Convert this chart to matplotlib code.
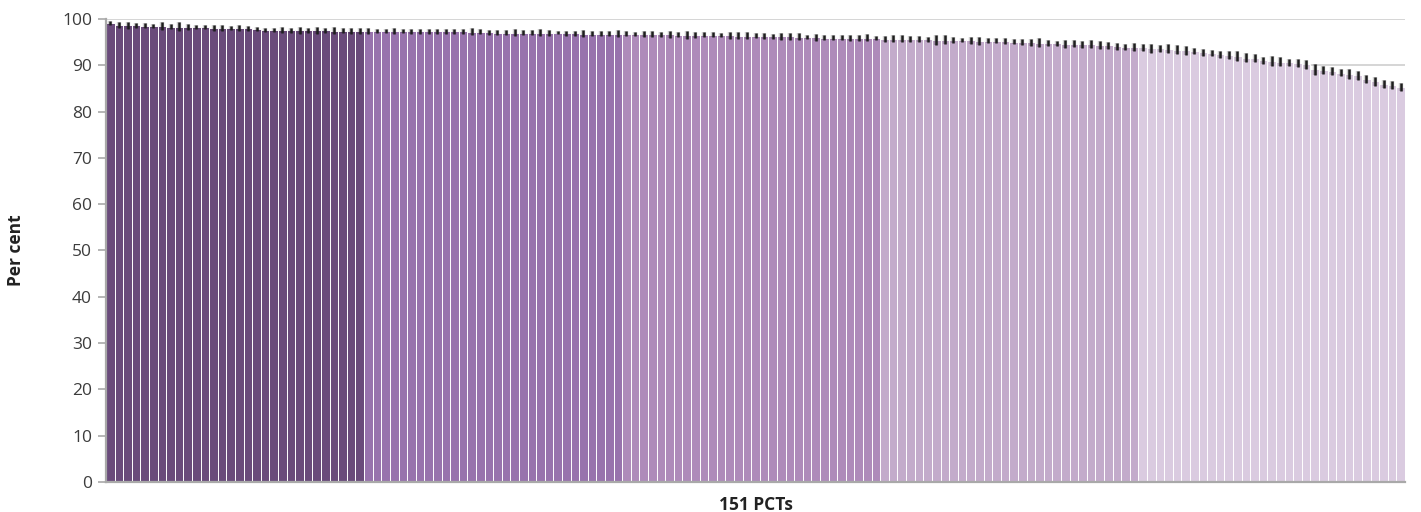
import matplotlib
matplotlib.use("Agg")
import matplotlib.pyplot as plt
import matplotlib.patheffects as pe
import numpy as np

plt.rcParams['font.family'] = ['Open Sans', 'DejaVu Sans']

# ---- data ----
values = [
    # bars 1-30 (group 1)
    99.2, 98.7, 98.6, 98.6, 98.5, 98.5, 98.5, 98.35, 98.3, 98.3,
    98.3, 98.25, 98.05, 98.05, 98.05, 98.05, 98.0, 97.85, 97.6, 97.6,
    97.6, 97.55, 97.55, 97.55, 97.55, 97.55, 97.5, 97.45, 97.4, 97.4,
    # bars 31-60 (group 2)
    97.4, 97.4, 97.4, 97.4, 97.35, 97.3, 97.3, 97.3, 97.3, 97.3,
    97.3, 97.3, 97.25, 97.2, 97.1, 97.05, 97.05, 97.05, 97.05, 97.05,
    97.0, 97.0, 97.0, 96.95, 96.9, 96.85, 96.85, 96.85, 96.85, 96.85,
    # bars 61-90 (group 3)
    96.8, 96.8, 96.75, 96.7, 96.65, 96.65, 96.6, 96.6, 96.55, 96.55,
    96.55, 96.5, 96.45, 96.4, 96.4, 96.35, 96.3, 96.25, 96.25, 96.25,
    96.2, 96.1, 96.05, 95.95, 95.95, 95.95, 95.9, 95.9, 95.9, 95.9,
    # bars 91-120 (group 4)
    95.7, 95.7, 95.7, 95.7, 95.7, 95.6, 95.5, 95.5, 95.5, 95.45,
    95.35, 95.3, 95.3, 95.3, 95.2, 95.1, 95.0, 95.0, 94.9, 94.8,
    94.7, 94.6, 94.6, 94.5, 94.5, 94.4, 94.3, 94.1, 93.95, 93.9,
    # bars 121-151 (group 5)
    93.85, 93.7, 93.7, 93.6, 93.4, 93.2, 93.1, 92.8, 92.6, 92.4,
    92.2, 92.0, 91.6, 91.5, 91.1, 90.9, 90.8, 90.6, 90.5, 90.2,
    89.1, 89.0, 88.8, 88.4, 88.1, 87.8, 87.0, 86.5, 86.0, 85.7,
    85.3,
]

errors = [
    0.45, 0.65, 0.7, 0.6, 0.55, 0.45, 0.8, 0.55, 0.95, 0.7,
    0.5, 0.4, 0.7, 0.55, 0.4, 0.6, 0.5, 0.5, 0.4, 0.4,
    0.6, 0.5, 0.7, 0.6, 0.7, 0.6, 0.75, 0.55, 0.6, 0.6,
    0.55, 0.5, 0.5, 0.55, 0.4, 0.5, 0.6, 0.6, 0.5, 0.5,
    0.55, 0.6, 0.7, 0.55, 0.6, 0.6, 0.6, 0.7, 0.6, 0.55,
    0.75, 0.7, 0.3, 0.55, 0.5, 0.85, 0.6, 0.6, 0.5, 0.75,
    0.55, 0.4, 0.6, 0.6, 0.6, 0.7, 0.5, 0.85, 0.7, 0.55,
    0.55, 0.4, 0.75, 0.75, 0.7, 0.55, 0.6, 0.55, 0.7, 0.75,
    0.85, 0.4, 0.75, 0.55, 0.55, 0.6, 0.6, 0.7, 0.75, 0.4,
    0.7, 0.75, 0.75, 0.7, 0.7, 0.55, 1.1, 0.95, 0.6, 0.5,
    0.85, 0.85, 0.6, 0.6, 0.7, 0.55, 0.7, 0.75, 1.0, 0.7,
    0.6, 0.85, 0.75, 0.7, 0.85, 0.85, 0.75, 0.7, 0.7, 0.85,
    0.7, 0.95, 0.75, 0.9, 0.9, 0.95, 0.6, 0.75, 0.6, 0.75,
    0.95, 1.0, 0.95, 0.9, 0.75, 1.0, 0.95, 0.85, 0.95, 1.0,
    1.1, 0.85, 0.9, 0.75, 1.15, 1.0, 0.85, 1.0, 0.9, 0.85,
    0.95,
]

group_sizes = [30, 30, 30, 30, 31]
group_colors = ['#6a4b7b', '#9873ad', '#ae8bba', '#c3abcb', '#dacbe0']

y_ticks = [0, 10, 20, 30, 40, 50, 60, 70, 80, 90, 100]
x_label = '151 PCTs'
y_label = 'Per cent'

# ---- plot ----
n = len(values)
x = np.arange(n)
colors = []
for c, s in zip(group_colors, group_sizes):
    colors += [c] * s

fig = plt.figure(figsize=(14.21, 5.12), dpi=100)
ax = fig.add_axes([0.0746, 0.0586, 0.9142, 0.9044])

ax.bar(x, values, width=1.0, color=colors, edgecolor='white',
       linewidth=0.7, zorder=2)
eb = ax.errorbar(x, values, yerr=errors, fmt='none', ecolor='#1e1e1e',
                 elinewidth=1.8, capsize=0, zorder=3)
for lc in eb[2]:
    lc.set_path_effects([pe.Stroke(linewidth=3.2, foreground='#00000030'),
                         pe.Normal()])

ax.set_xlim(-0.5, n - 0.5)
ax.set_ylim(0, 100)
ax.set_yticks(y_ticks)
ax.set_xticks([])
ax.yaxis.grid(True, color='#d2d2d2', linewidth=1.3, zorder=0)
ax.set_axisbelow(True)

for s in ['top', 'right']:
    ax.spines[s].set_visible(False)
for s in ['left', 'bottom']:
    ax.spines[s].set_color('#a9a9a9')
    ax.spines[s].set_linewidth(1.6)
    ax.spines[s].set_zorder(4)

ax.tick_params(axis='y', length=6, width=1.2, color='#a9a9a9',
               labelsize=12.5, labelcolor='#3c3c3c', pad=4)

ax.set_ylabel(y_label, fontsize=12.5, fontweight='bold', color='#222222')
ax.yaxis.set_label_coords(-0.062, 0.5)
ax.set_xlabel(x_label, fontsize=12.5, fontweight='bold', color='#222222',
              labelpad=10)

fig.savefig('out.png', dpi=100)
